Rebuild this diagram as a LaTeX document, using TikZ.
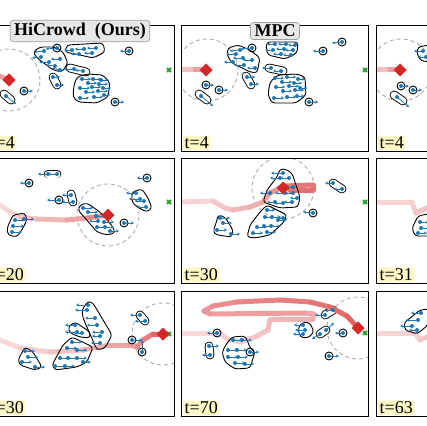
\documentclass[tikz,border=0pt]{standalone}
\usepackage{fontspec}
\setmainfont{Liberation Serif}
\usetikzlibrary{arrows.meta}

\definecolor{pedblue}{RGB}{31,119,180}
\definecolor{robred}{RGB}{214,39,40}
\definecolor{goalgreen}{RGB}{44,160,44}
\definecolor{tagyellow}{RGB}{255,247,196}

% pedoni: punto e velocita
\newcommand\peds[1]{%
  \foreach \px/\py/\vx/\vy in {#1}{%
    \draw[pedvel] (\px,\py) -- ++(\vx,\vy);
    \fill[pedblue] (\px,\py) circle[radius=2pt];
  }}
% traiettoria che sfuma
\newcommand\trail[1]{%
  \foreach \tx/\ty/\tc [count=\ti, remember=\tx as \lx (initially 0), remember=\ty as \ly (initially 0)] in {#1}{%
    \ifnum\ti>1 \draw[trailseg, robred!\tc] (\lx,\ly) -- (\tx,\ty);\fi
  }}
\newcommand\robot[2]{\fill[robred] (#1,#2) ++(0,-6.5) -- ++(6.5,6.5) -- ++(-6.5,6.5) -- ++(-6.5,-6.5) -- cycle;}
\newcommand\goal[2]{\draw[goalgreen, line width=1.8pt] (#1,#2) ++(-2,-2) -- ++(4,4) ++(-4,0) -- ++(4,-4);}
\newcommand\capsule[4]{\draw[hull, double=white, double distance=7pt, line cap=round] (#1,#2) -- (#3,#4);}
\newcommand\single[2]{\draw[hull] (#1,#2) circle[radius=4pt];}

\begin{document}
\begin{tikzpicture}[x=1pt, y=-1pt,
  panel/.style={line width=1pt},
  hull/.style={line width=0.9pt, rounded corners=3pt, line join=round},
  sensing/.style={gray!65, line width=0.9pt, dash pattern=on 4pt off 3pt},
  trailseg/.style={line width=5pt, line cap=round, line join=round},
  pedvel/.style={pedblue, line width=0.8pt, -{Stealth[length=3pt, width=3pt]}},
  titlebox/.style={draw=gray!75, fill=gray!18, rounded corners=3pt, line width=0.7pt,
    inner xsep=4pt, inner ysep=2.5pt, font=\bfseries\fontsize{18}{18}\selectfont},
  timetag/.style={fill=tagyellow, rounded corners=2pt, inner xsep=1.5pt, inner ysep=1pt,
    anchor=south west, font=\fontsize{18}{18}\selectfont}]
\useasboundingbox (0,0) rectangle (427,425);

% riga 1, HiCrowd
\begin{scope}
\clip (-13,26) rectangle (174,151);
\draw[sensing] (9,80) circle[radius=31pt];
\trail{-13/70/15, -3/75/28, 9/80/45}
\goal{169}{70}
\capsule{70}{68}{86}{72}
\capsule{53}{77}{57}{85}
\capsule{4}{94}{11}{100}
\draw[hull] (33,52) -- (40,47) -- (55,47) -- (63,52) -- (68,63) -- (62,72) -- (53,70) -- (37,58) -- cycle;
\draw[hull] (67,45) -- (103,43) -- (105,52) -- (93,58) -- (80,55) -- (65,52) -- cycle;
\draw[hull] (77,77) -- (87,74) -- (103,75) -- (110,83) -- (108,97) -- (97,103) -- (78,102) -- (73,97) -- (74,85) -- cycle;
\single{57}{48} \single{129}{51} \single{115}{102} \single{24}{91}
\peds{57/48/-11/1, 44/51/-10/1, 41/57/-9/1, 49/62/-10/0, 60/59/-9/0, 55/66/-9/-1, 60/70/-8/-2,
  72/50/-8/0, 84/49/-9/0, 96/48/-9/0, 79/54/-8/0, 92/53/-8/0, 129/51/-9/0,
  74/69/-10/0, 83/71/-8/-1, 53/77/7/0, 57/85/7/0,
  82/79/9/0, 93/79/8/0, 101/80/7/0, 88/83/9/0, 99/84/9/0, 80/88/10/0, 92/87/9/0, 103/88/8/0,
  86/92/9/0, 98/91/10/0, 80/98/9/0, 94/97/9/0, 104/95/6/0,
  115/102/9/0, 24/91/9/0, 6/96/10/8}
\robot{9}{80}
\end{scope}

% riga 1, MPC
\begin{scope}
\clip (181,26) rectangle (368,151);
\draw[sensing] (207,70) circle[radius=31pt];
\trail{181/70/15, 195/70/30, 206/70/45}
\goal{365}{70}
\capsule{269}{68}{283}{71}
\capsule{246}{76}{251}{85}
\capsule{199}{94}{207}{100}
\draw[hull] (228,48) -- (238,45) -- (250,50) -- (260,58) -- (257,73) -- (250,72) -- (232,63) -- (227,55) -- cycle;
\draw[hull] (267,42) -- (298,42) -- (297,53) -- (285,59) -- (268,55) -- (266,48) -- cycle;
\draw[hull] (278,75) -- (297,74) -- (305,77) -- (306,95) -- (296,103) -- (272,103) -- (268,95) -- (270,82) -- cycle;
\single{252}{48} \single{323}{51} \single{342}{42} \single{309}{102} \single{206}{85} \single{219}{90}
\peds{252/48/-11/1, 240/50/-10/1, 236/54/-10/0, 243/58/-10/0, 233/62/-9/0, 244/65/-10/0, 252/60/-9/0, 255/68/-8/0,
  275/44/-8/0, 286/44/-8/0, 295/45/-7/0, 273/50/-8/0, 284/49/-8/0, 293/50/-8/0, 281/54/-8/0, 291/55/-8/0,
  323/51/-10/0, 342/42/-10/1, 271/68/-9/0, 281/71/-8/0, 247/77/8/0, 251/84/8/0,
  275/78/9/0, 287/77/9/0, 298/79/7/0, 282/82/10/0, 294/83/8/0, 276/87/9/0, 289/86/10/0, 300/88/7/0,
  283/91/9/0, 295/90/9/0, 274/98/10/0, 287/97/9/0, 297/96/7/0,
  309/102/9/0, 206/85/8/0, 219/90/9/0, 201/96/12/10}
\robot{206}{70}
\end{scope}

% riga 1, terza colonna
\begin{scope}
\clip (376,26) rectangle (563,151);
\draw[sensing] (401,70) circle[radius=31pt];
\trail{376/70/15, 390/70/30, 400/70/45}
\capsule{394}{95}{403}{101}
\draw[hull] (418,47) -- (435,44) -- (435,62) -- (421,61) -- (417,54) -- cycle;
\single{401}{86} \single{413}{90}
\peds{401/86/8/0, 413/90/9/0, 397/97/12/10, 423/51/-9/0, 426/57/-8/0}
\robot{400}{70}
\end{scope}

% riga 2, HiCrowd
\begin{scope}
\clip (-13,158) rectangle (174,283);
\draw[sensing] (108,215) circle[radius=31pt];
\capsule{48}{174}{57}{174}
\capsule{71}{194}{73}{202}
\trail{-13/200/12, 0/205/15, 10/212/18, 20/217/21, 37/219/26, 67/220/33, 87/218/42, 108/215/55}
\goal{169}{202}
\draw[hull] (13,215) -- (25,213) -- (27,220) -- (23,228) -- (17,237) -- (8,235) -- (7,228) -- cycle;
\draw[hull] (80,205) -- (87,203) -- (100,212) -- (113,227) -- (115,233) -- (107,235) -- (97,232) -- (85,218) -- (78,210) -- cycle;
\draw[hull] (132,192) -- (142,189) -- (148,198) -- (152,208) -- (147,212) -- (137,207) -- (132,202) -- cycle;
\single{29}{183} \single{59}{200} \single{124}{223} \single{147}{178}
\peds{48/174/-10/0, 57/174/-9/0, 29/183/-9/0, 59/200/-12/0, 71/195/-9/0, 73/202/-11/0,
  15/220/10/0, 24/219/10/0, 13/226/11/0, 12/232/10/0,
  83/208/10/0, 88/212/10/0, 96/216/10/0, 98/221/-9/0, 104/222/10/0, 97/227/10/0, 105/227/9/0, 110/231/9/0,
  124/223/10/0, 147/178/-10/0, 136/193/-10/0, 140/199/-11/0, 144/201/-9/0, 146/207/-9/0}
\robot{108}{215}
\end{scope}

% riga 2, MPC
\begin{scope}
\clip (181,158) rectangle (368,283);
\draw[sensing] (283,188) circle[radius=31pt];
\capsule{333}{183}{342}{189}
\trail{181/202/15, 213/201/20, 225/208/25, 233/210/28, 250/207/33, 263/202/38, 270/193/42, 280/188/50,
  284/186/58, 313/185/62, 313/190/64, 290/190/66}
\goal{365}{202}
\draw[hull] (280,169) -- (285,169) -- (292,173) -- (300,197) -- (298,207) -- (280,208) -- (263,202) -- (267,190) -- (277,177) -- cycle;
\draw[hull] (267,205) -- (287,215) -- (283,223) -- (270,235) -- (255,238) -- (247,237) -- (250,225) -- (260,212) -- cycle;
\draw[hull] (218,215) -- (225,217) -- (233,230) -- (232,237) -- (217,235) -- (213,232) -- (217,220) -- cycle;
\single{313}{213}
\peds{283/173/-12/0, 280/178/-10/0, 289/178/-9/0, 287/187/-10/0, 293/187/-9/0, 270/193/-10/0, 285/193/-10/0,
  293/193/-8/0, 275/202/-8/0, 283/203/-9/0, 292/202/-8/0, 297/198/-7/0,
  267/210/8/0, 265/217/9/0, 272/217/9/0, 278/220/9/0, 283/218/-7/0, 257/227/10/0, 264/226/10/0, 271/226/9/0,
  253/233/10/0, 267/232/9/0, 220/218/10/0, 223/223/9/0, 217/230/10/0, 231/234/9/0,
  333/183/-8/0, 342/189/-8/0, 313/213/-10/-1}
\robot{283}{188}
\end{scope}

% riga 2, terza colonna
\begin{scope}
\clip (376,158) rectangle (563,283);
\trail{376/202/15, 412/202/20, 414/208/22, 416/213/24, 427/208/28, 440/205/30}
\draw[hull] (418,216) -- (432,213) -- (432,236) -- (415,236) -- (412,228) -- cycle;
\peds{420/222/9/0, 421/228/9/0, 418/233/9/0}
\end{scope}

% riga 3, HiCrowd
\begin{scope}
\clip (-13,291) rectangle (174,416);
\draw[sensing] (163,334) circle[radius=31pt];
\capsule{140}{315}{145}{321}
\trail{-13/336/12, 0/340/15, 20/348/18, 50/352/22, 83/350/28, 110/345/35, 130/345/42, 137/347/45,
  143/340/52, 153/334/60, 163/334/70}
\goal{169}{334}
\draw[hull] (25,347) -- (33,352) -- (42,367) -- (35,370) -- (20,365) -- (18,360) -- cycle;
\draw[hull] (72,337) -- (93,347) -- (87,362) -- (77,367) -- (55,370) -- (52,365) -- (63,345) -- cycle;
\draw[hull] (75,322) -- (90,332) -- (90,338) -- (80,337) -- (70,333) -- (68,327) -- cycle;
\draw[hull] (88,301) -- (93,303) -- (112,335) -- (105,348) -- (97,350) -- (83,318) -- (82,310) -- cycle;
\single{132}{340} \single{142}{352}
\peds{88/305/-12/0, 87/310/-12/0, 95/318/-10/0, 97/325/-10/0, 102/332/-10/0, 100/336/-8/0, 100/343/-9/0,
  75/325/-10/0, 77/332/-12/0, 82/333/-8/0,
  72/342/10/0, 67/348/10/0, 77/350/10/0, 60/358/11/0, 68/358/10/0, 77/358/10/0, 55/366/11/0, 65/366/10/0, 83/362/8/0,
  25/351/10/0, 28/357/10/0, 22/362/10/0, 35/367/10/0,
  140/315/-10/0, 145/321/-10/0, 132/340/10/0, 142/352/0/-12}
\robot{163}{334}
\end{scope}

% riga 3, MPC
\begin{scope}
\clip (181,291) rectangle (368,416);
\draw[sensing] (358,328) circle[radius=31pt];
\capsule{209}{346}{210}{355}
\capsule{320}{334}{326}{330}
\capsule{325}{315}{333}{310}
\trail{181/333/15, 220/333/18, 227/339/20, 240/342/22, 255/337/25, 268/330/27, 270/320/30, 275/319/32,
  313/319/35, 314/314/37, 305/313/39, 210/314/45, 204/311/47, 213/306/49, 237/302/53, 280/300/57,
  310/302/60, 330/307/64, 347/316/68, 358/328/72}
\goal{365}{333}
\draw[hull] (232,337) -- (245,336) -- (248,342) -- (250,348) -- (255,352) -- (250,368) -- (235,369) -- (225,362) -- (222,352) -- (227,343) -- cycle;
\draw[hull] (303,322) -- (310,323) -- (314,332) -- (308,338) -- (300,337) -- (298,328) -- cycle;
\single{217}{333} \single{250}{352} \single{343}{333} \single{329}{356}
\peds{217/333/-10/0, 209/346/10/0, 210/355/-8/0,
  233/340/10/0, 242/340/10/0, 228/350/10/0, 237/350/10/0, 250/352/9/0, 228/357/10/0, 238/357/10/0,
  235/363/10/0, 245/364/9/0, 303/325/-9/0, 305/330/-10/0, 303/334/-10/0,
  320/334/-8/5, 326/330/8/-7, 325/315/-10/0, 333/310/-8/1, 343/333/-8/0, 329/356/10/0}
\robot{358}{328}
\end{scope}

% riga 3, terza colonna
\begin{scope}
\clip (376,291) rectangle (563,416);
\trail{376/333/15, 415/333/20, 420/340/22, 427/337/25, 440/335/28}
\draw[hull] (420,310) -- (430,309) -- (428,325) -- (417,334) -- (405,330) -- (404,323) -- cycle;
\peds{421/313/-10/0, 418/320/-12/0, 412/326/-12/0, 417/330/-8/0}
\end{scope}

% cornici
\foreach \cx in {-13,181,376}{
  \foreach \cy in {26,158,291}{
    \draw[panel] (\cx,\cy) rectangle ++(187,125);
  }
}

% istanti
\foreach \cx/\cy/\tlab [count=\i] in {-13/151/4, 181/151/4, 376/151/4, -13/283/20, 181/283/30, 376/283/31,
  -13/416/30, 181/416/70, 376/416/63}
  \node[timetag] (tag\i) at (\cx+2,\cy-1) {t=\tlab};

% titoli
\node[titlebox] (hicrowd) at (80,31) {HiCrowd~~(Ours)};
\node[titlebox] (mpc) at (275,31) {MPC};
\end{tikzpicture}
\end{document}
